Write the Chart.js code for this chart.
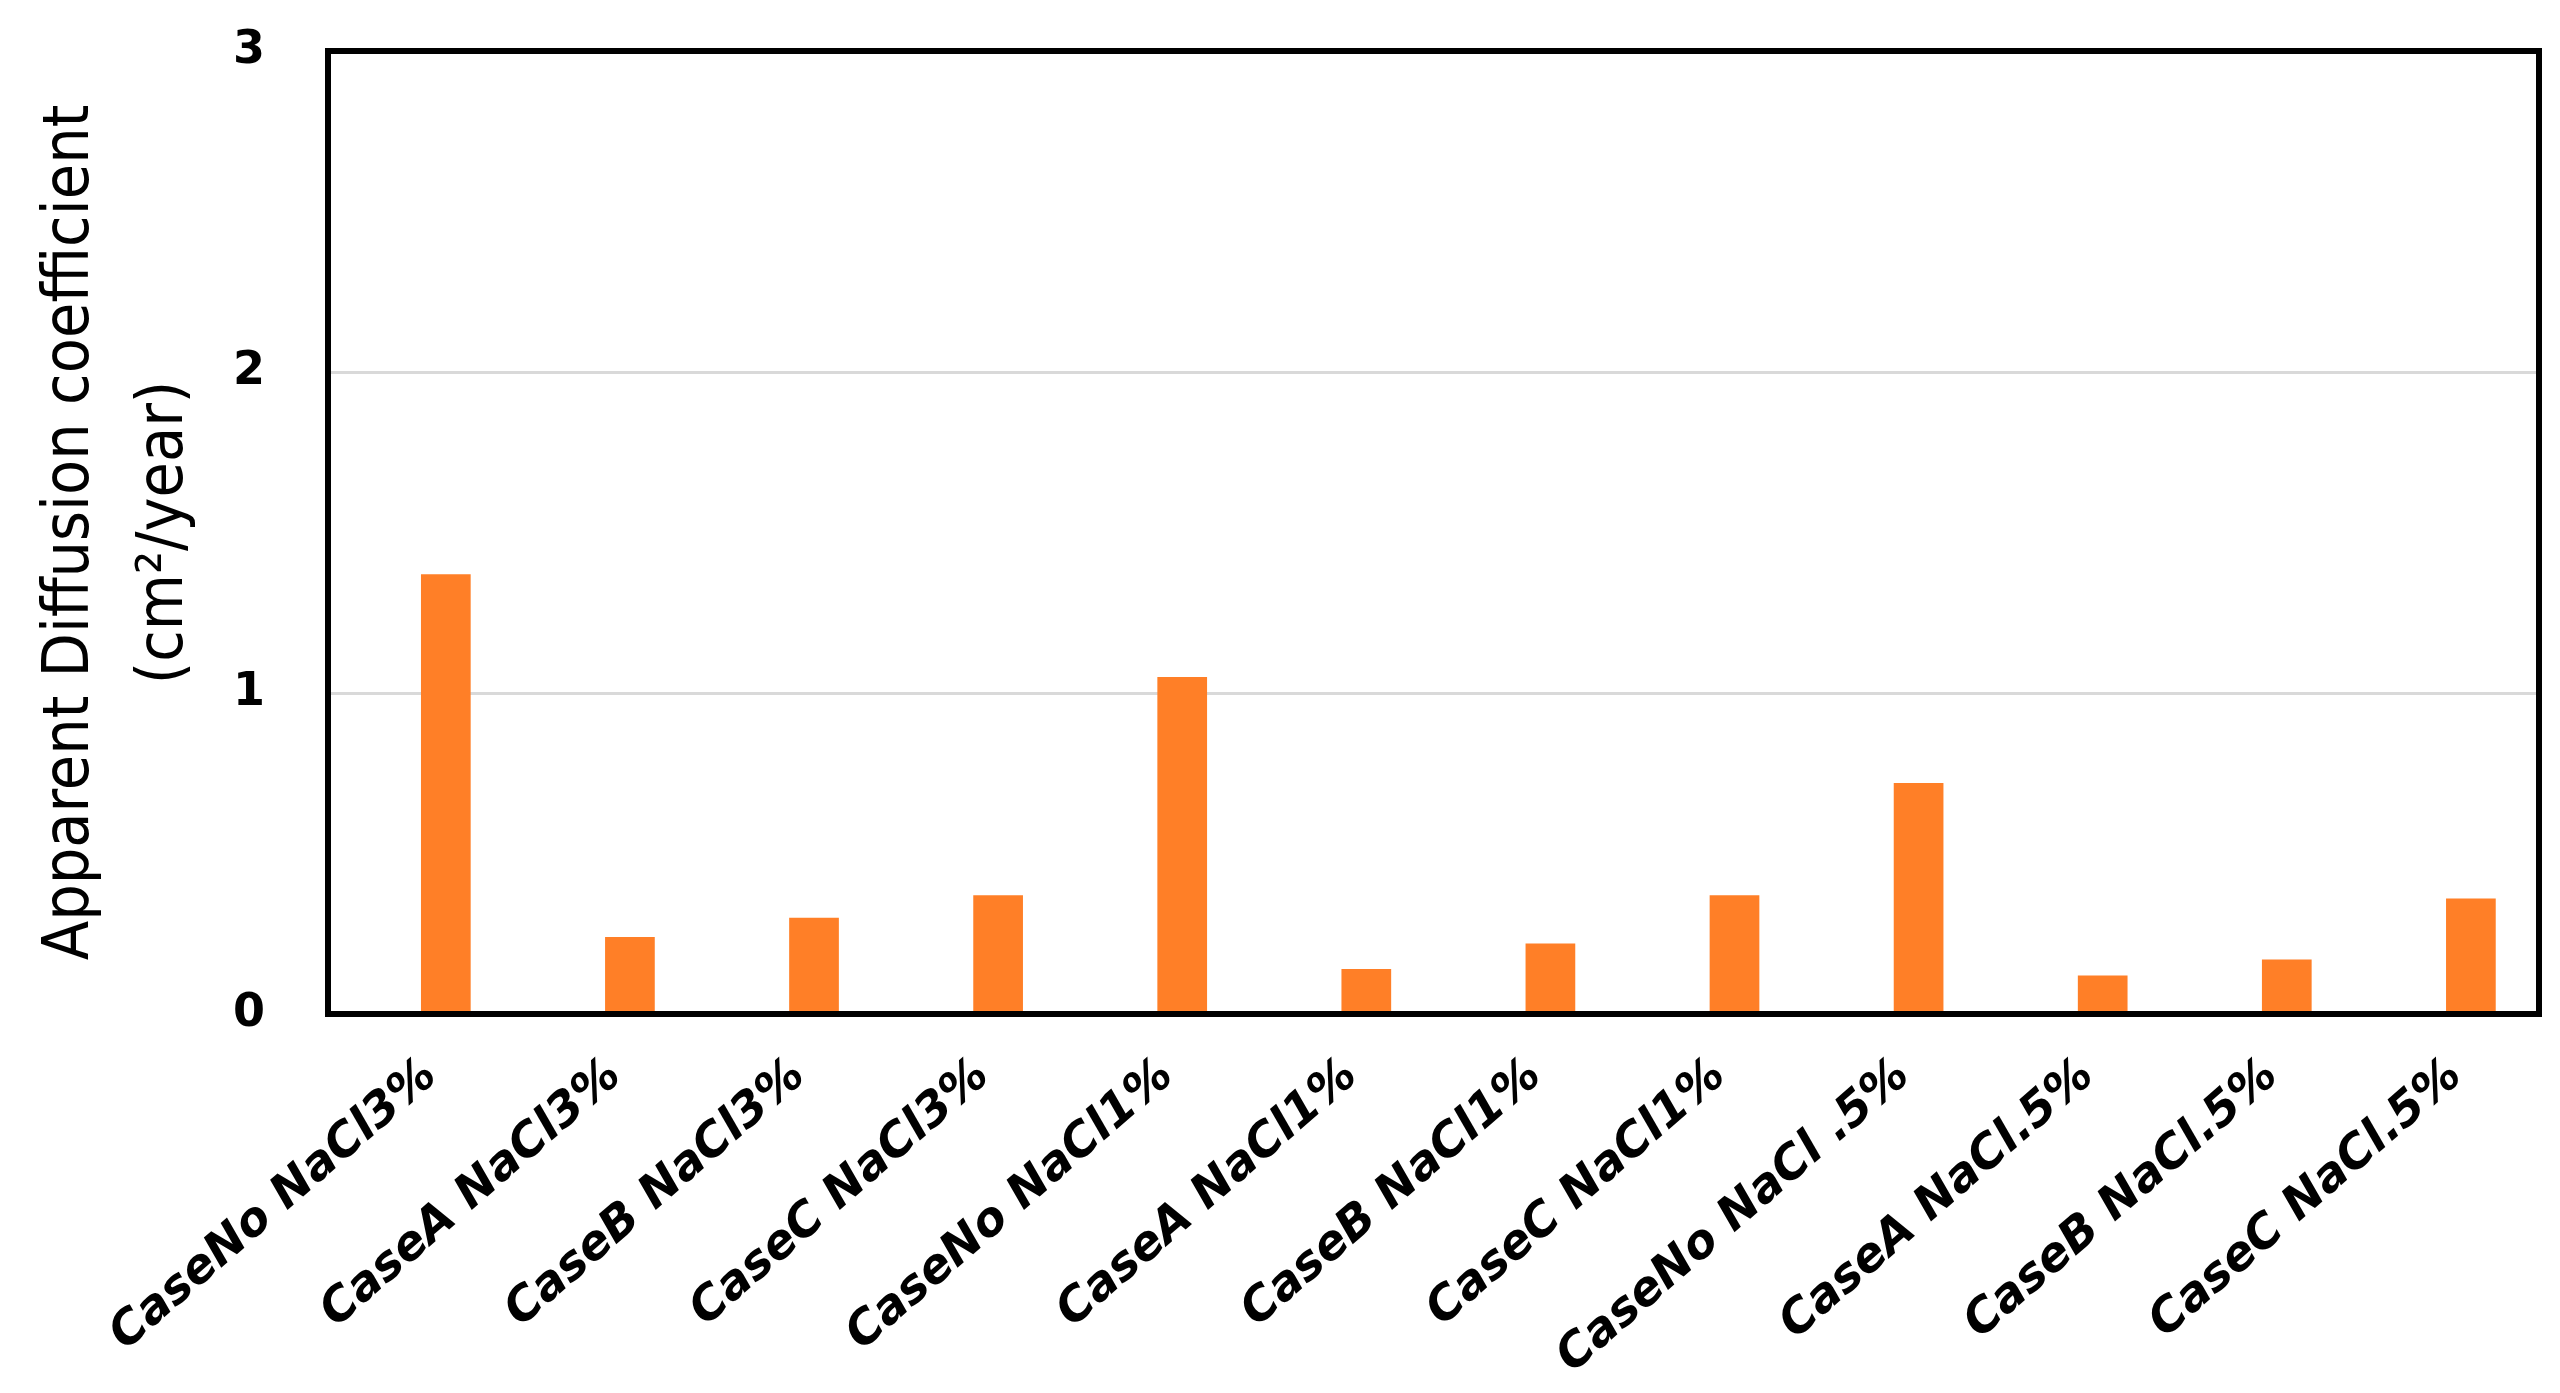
<!DOCTYPE html>
<html>
<head>
<meta charset="utf-8">
<title>Apparent Diffusion coefficient</title>
<script src="https://cdn.jsdelivr.net/npm/chart.js@4/dist/chart.umd.min.js"></script>
<style>
  html, body { margin: 0; padding: 0; background: #ffffff; }
  #wrap { width: 2560px; height: 1393px; position: relative; }
</style>
</head>
<body>
<div id="wrap"><canvas id="diffChart"></canvas></div>
<script>
// Data
const caseLabels = [
  "CaseNo NaCl3%", "CaseA NaCl3%", "CaseB NaCl3%", "CaseC NaCl3%",
  "CaseNo NaCl1%", "CaseA NaCl1%", "CaseB NaCl1%", "CaseC NaCl1%",
  "CaseNo NaCl .5%", "CaseA NaCl.5%", "CaseB NaCl.5%", "CaseC NaCl.5%",
];
const diffusionValues = [1.37, 0.24, 0.30, 0.37, 1.05, 0.14, 0.22, 0.37, 0.72, 0.12, 0.17, 0.36];
const yTicks = [0, 1, 2, 3];
const yTitle = ["Apparent Diffusion coefficient", "(cm\u00B2/year)"];

// Black box round the plot area
const plotFrame = {
  id: "plotFrame",
  afterDatasetsDraw(chart) {
    const { ctx, chartArea } = chart;
    ctx.save();
    ctx.strokeStyle = "#000000";
    ctx.lineWidth = 6;
    ctx.strokeRect(
      chartArea.left,
      chartArea.top,
      chartArea.right - chartArea.left,
      chartArea.bottom - chartArea.top
    );
    ctx.restore();
  },
};

const ctx = document.getElementById("diffChart");

// the original plot sits a bit off-centre, so the x axis is linear on the category index
new Chart(ctx, {
  type: "bar",
  data: {
    datasets: [
      {
        label: "Apparent Diffusion coefficient",
        data: diffusionValues.map((v, i) => ({ x: i, y: v })),
        backgroundColor: "#ff7f27",
        borderWidth: 0,
        categoryPercentage: 1.0,
        barPercentage: 0.27,
      },
    ],
  },
  options: {
    responsive: true,
    maintainAspectRatio: false,
    animation: false,
    layout: {
      padding: { top: 51, right: 21, bottom: 0, left: 0 },
    },
    plugins: {
      legend: { display: false },
      tooltip: { enabled: false },
    },
    scales: {
      x: {
        type: "linear",
        offset: false,
        min: -0.64,
        max: caseLabels.length - 0.63,
        grid: { display: false },
        border: { display: false },
        afterBuildTicks: (scale) => {
          scale.ticks = caseLabels.map((_, i) => ({ value: i }));
        },
        ticks: {
          autoSkip: false,
          minRotation: 41,
          maxRotation: 41,
          padding: 26,
          labelOffset: -15,
          color: "#000000",
          font: { family: "'DejaVu Sans', Verdana, sans-serif", size: 47, weight: "bold", style: "italic" },
          callback: (value) => caseLabels[value] ?? "",
        },
        afterFit: (scale) => {
          scale.height = 379;
          scale.paddingLeft = 0;
          scale.paddingRight = 0;
        },
      },
      y: {
        min: yTicks[0],
        max: yTicks[yTicks.length - 1],
        border: { display: false },
        grid: {
          color: "#d9d9d9",
          lineWidth: 3,
          drawTicks: false,
        },
        afterBuildTicks: (scale) => {
          scale.ticks = yTicks.map((v) => ({ value: v }));
        },
        ticks: {
          padding: 63,
          color: "#000000",
          font: { family: "'DejaVu Sans', Verdana, sans-serif", size: 46, weight: "bold" },
        },
        title: {
          display: true,
          text: yTitle,
          color: "#000000",
          padding: { top: 24, bottom: 0 },
          font: {
            family: "'Liberation Sans Narrow', 'DejaVu Sans Condensed', sans-serif",
            size: 64,
            lineHeight: 1.47,
          },
        },
        afterFit: (scale) => {
          scale.width = 328;
          scale.paddingTop = 0;
          scale.paddingBottom = 0;
        },
      },
    },
  },
  plugins: [plotFrame],
});
</script>
</body>
</html>
